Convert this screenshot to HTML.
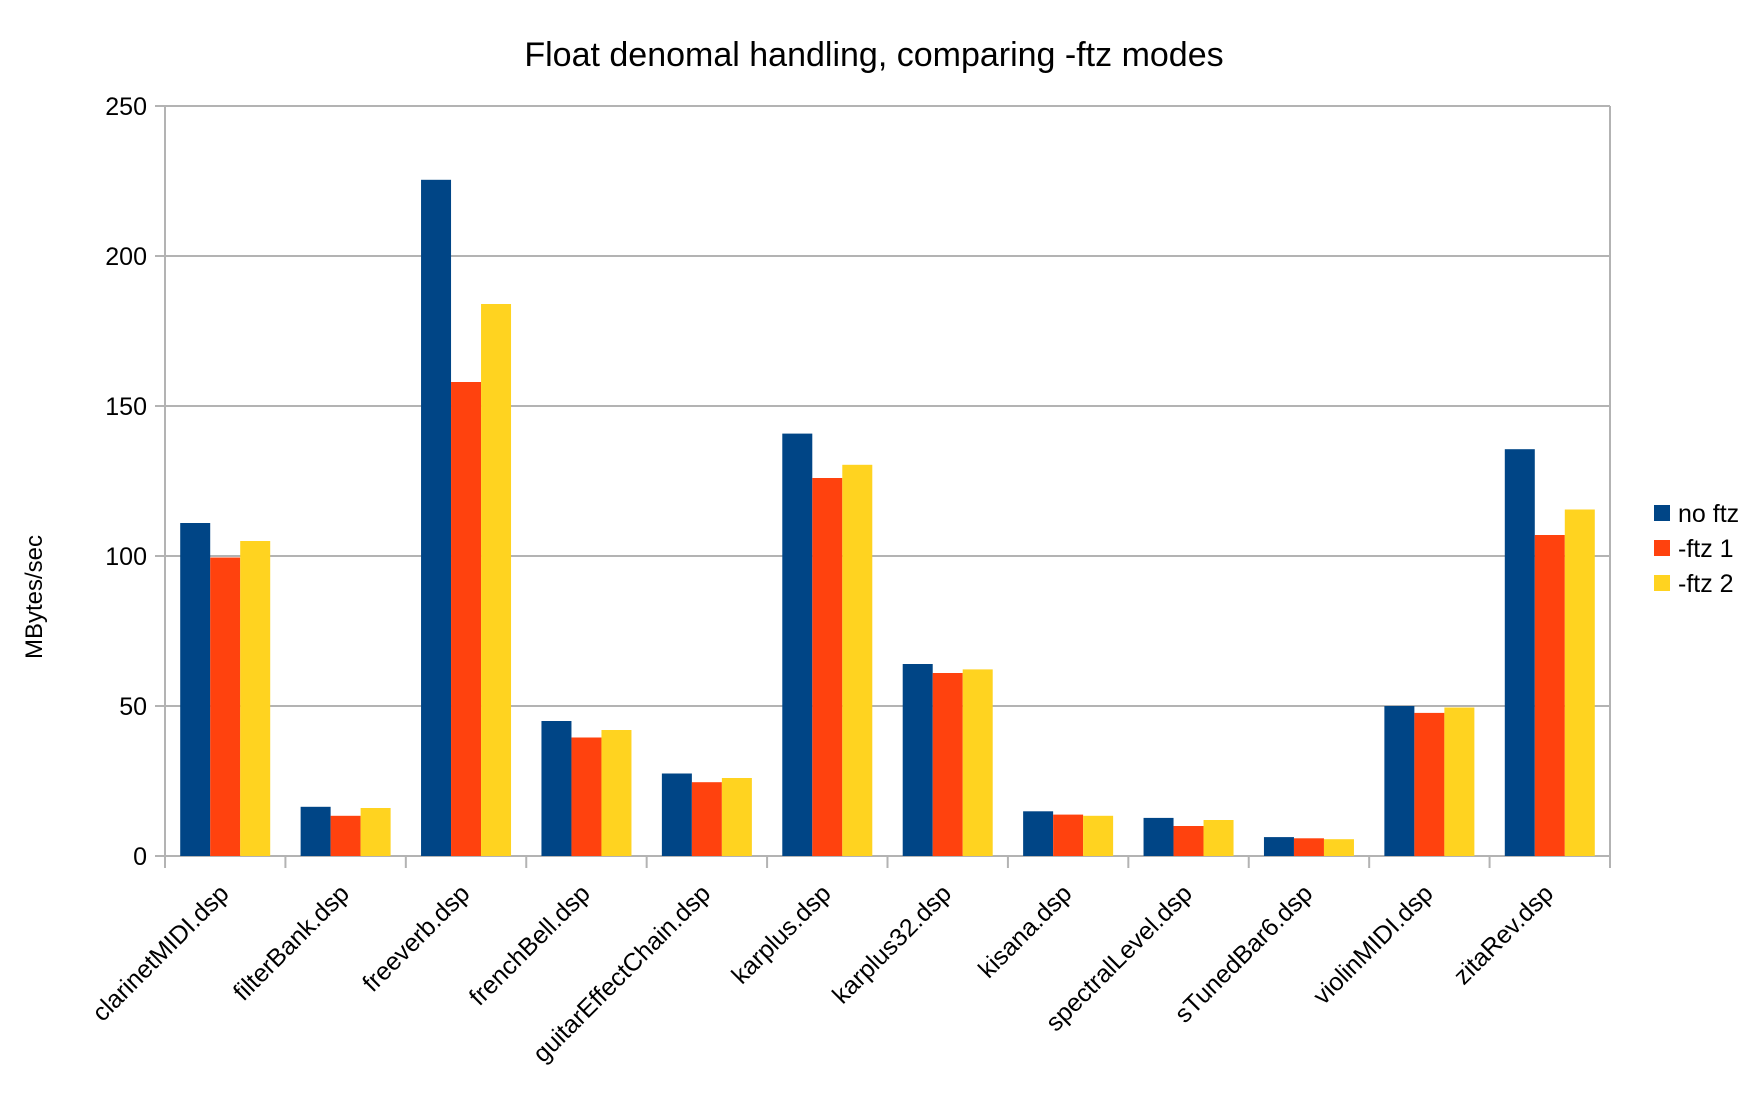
<!DOCTYPE html>
<html><head><meta charset="utf-8"><style>
html,body{margin:0;padding:0;background:#fff}
svg{display:block;font-family:"Liberation Sans",sans-serif}
</style></head><body>
<svg width="1756" height="1094" viewBox="0 0 1756 1094">
<text x="874" y="66" font-size="34" text-anchor="middle" fill="#000">Float denomal handling, comparing -ftz modes</text>
<text transform="translate(42,597) rotate(-90)" font-size="24" text-anchor="middle" fill="#000">MBytes/sec</text>
<g id="grid"></g><g id="bars"></g><g id="axes"></g><g id="legend"></g>
</svg>
<script>
const categories=["clarinetMIDI.dsp","filterBank.dsp","freeverb.dsp","frenchBell.dsp","guitarEffectChain.dsp","karplus.dsp","karplus32.dsp","kisana.dsp","spectralLevel.dsp","sTunedBar6.dsp","violinMIDI.dsp","zitaRev.dsp"];
const noFtz=[111,16.4,225.4,45,27.5,140.8,64,14.9,12.7,6.3,50,135.6];
const ftz1=[99.5,13.4,158,39.5,24.6,126,61,13.8,10,5.9,47.7,107];
const ftz2=[105,16,184,42,26,130.4,62.2,13.4,12,5.6,49.5,115.5];
const yTicks=[0,50,100,150,200,250];
const seriesNames=["no ftz","-ftz 1","-ftz 2"];
const colors=["#004586","#ff420e","#ffd320"];
const NS="http://www.w3.org/2000/svg";
const L=165,R=1610,T=106,B=856,yMax=250;
const y=v=>B-(v/yMax)*(B-T);
const bw=(R-L)/categories.length;
const x=i=>L+i*bw;
function mk(tag,attrs,parent){const e=document.createElementNS(NS,tag);for(const k in attrs)e.setAttribute(k,attrs[k]);document.getElementById(parent).appendChild(e);return e;}
yTicks.forEach(t=>{
 const g=mk('line',{x1:L-10,x2:R,y1:y(t),y2:y(t),stroke:'#b3b3b3','stroke-width':2},'grid');
 
 
 const tx=mk('text',{x:L-18,y:y(t)+9,'font-size':25,'text-anchor':'end',fill:'#000'},'axes');
 tx.textContent=t;
 
 
});
const series=[noFtz,ftz1,ftz2];
const barW=30,off=(bw-3*barW)/2;
categories.forEach((c,i)=>{
 series.forEach((s,j)=>{
  const r=mk('rect',{x:x(i)+off+j*barW,y:y(s[i]),width:barW,height:B-y(s[i]),fill:colors[j]},'bars');
  
  
 });
 const cx=x(i)+bw/2;
 const t=mk('text',{transform:`translate(${cx+5},${895}) rotate(-45)`,'font-size':25,'text-anchor':'end',fill:'#000'},'axes');
 t.textContent=c;
 
 
});
for(let i=0;i<=categories.length;i++){
 const tk=mk('line',{x1:x(i),x2:x(i),y1:B,y2:B+12,stroke:'#b3b3b3','stroke-width':2},'axes');
 
 
}
const ya=mk('line',{x1:L,x2:L,y1:T,y2:B,stroke:'#b3b3b3','stroke-width':2},'axes');


const ra=mk('line',{x1:R,x2:R,y1:T,y2:B+12,stroke:'#b3b3b3','stroke-width':2},'axes');


seriesNames.forEach((n,j)=>{
 const yy=513+j*35;
 const sq=mk('rect',{x:1654,y:yy-8,width:16,height:16,fill:colors[j]},'legend');
 
 
 const t=mk('text',{x:1678,y:yy+9,'font-size':25,fill:'#000'},'legend');
 t.textContent=n;
 
 
});
</script>
</body></html>
